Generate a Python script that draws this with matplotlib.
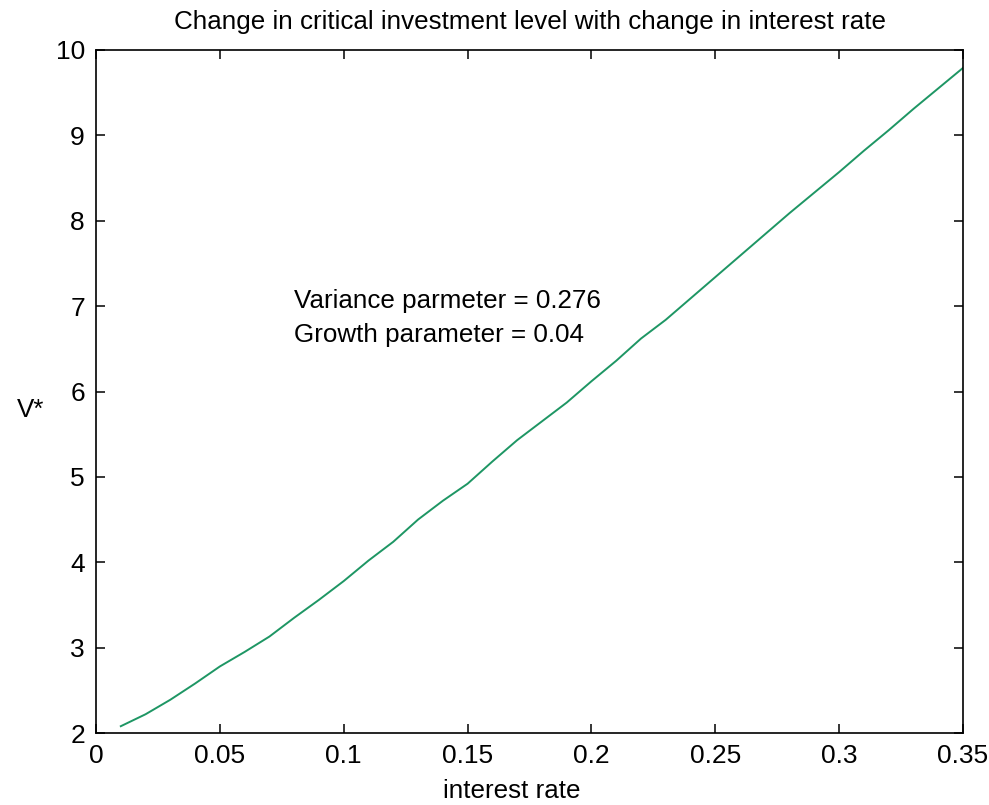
import numpy as np
import matplotlib.pyplot as plt

plt.rcParams['font.family'] = ['Liberation Sans', 'DejaVu Sans']

# interest rate and the critical investment level V*
rate = [0.01, 0.02, 0.03, 0.04, 0.05, 0.06, 0.07, 0.08, 0.09, 0.10,
        0.11, 0.12, 0.13, 0.14, 0.15, 0.16, 0.17, 0.18, 0.19, 0.20,
        0.21, 0.22, 0.23, 0.24, 0.25, 0.26, 0.27, 0.28, 0.29, 0.30,
        0.31, 0.32, 0.33, 0.34, 0.35]
v_star = [2.08, 2.22, 2.39, 2.58, 2.78, 2.95, 3.13, 3.35, 3.56, 3.78,
          4.02, 4.24, 4.50, 4.72, 4.92, 5.18, 5.43, 5.65, 5.87, 6.12,
          6.36, 6.62, 6.84, 7.09, 7.34, 7.59, 7.84, 8.09, 8.33, 8.57,
          8.82, 9.06, 9.31, 9.55, 9.79]

xticks = [0, 0.05, 0.1, 0.15, 0.2, 0.25, 0.3, 0.35]
xtick_labels = ['0', '0.05', '0.1', '0.15', '0.2', '0.25', '0.3', '0.35']
yticks = [2, 3, 4, 5, 6, 7, 8, 9, 10]

fig = plt.figure(figsize=(9.89, 8.05), dpi=100)
ax = fig.add_axes([0.0971, 0.0894, 0.8766, 0.8485])

ax.plot(rate, v_star, color='#1e9664', linewidth=1.4)

ax.set_xlim(0, 0.35)
ax.set_ylim(2, 10)
ax.set_xticks(xticks)
ax.set_xticklabels(xtick_labels)
ax.set_yticks(yticks)
ax.tick_params(direction='in', length=6.5, width=1.1, top=True, right=True,
               labelsize=19, pad=8)
for s in ax.spines.values():
    s.set_linewidth(1.2)

ax.set_title('Change in critical investment level with change in interest rate',
             fontsize=18.7, pad=15)
ax.set_xlabel('interest rate', fontsize=18.7)
ax.xaxis.set_label_coords(0.48, -0.068)
ax.set_ylabel('V*', fontsize=18.7, rotation=0, va='center', ha='center')
ax.yaxis.set_label_coords(-0.076, 0.473)

ax.text(0.08, 6.86, 'Variance parmeter = 0.276\nGrowth parameter = 0.04',
        fontsize=18.7, va='center', ha='left', linespacing=1.5)

fig.savefig('out.png', dpi=100, facecolor='white')
